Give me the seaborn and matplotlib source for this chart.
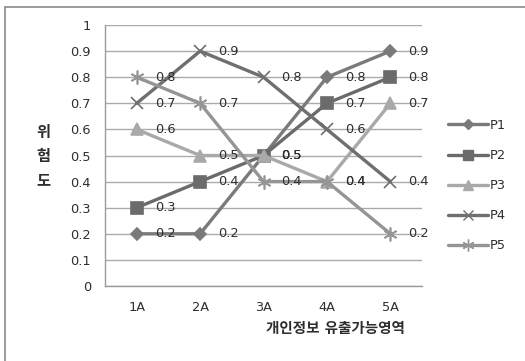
import matplotlib
matplotlib.use("Agg")
import matplotlib.pyplot as plt
from matplotlib.lines import Line2D
import seaborn as sns
import pandas as pd

categories = ["1A", "2A", "3A", "4A", "5A"]
p1 = [0.2, 0.2, 0.5, 0.8, 0.9]
p2 = [0.3, 0.4, 0.5, 0.7, 0.8]
p3 = [0.6, 0.5, 0.5, 0.4, 0.7]
p4 = [0.7, 0.9, 0.8, 0.6, 0.4]
p5 = [0.8, 0.7, 0.4, 0.4, 0.2]
series_names = ["P1", "P2", "P3", "P4", "P5"]
y_ticks = [0, 0.1, 0.2, 0.3, 0.4, 0.5, 0.6, 0.7, 0.8, 0.9, 1]
y_tick_labels = ["0", "0.1", "0.2", "0.3", "0.4", "0.5", "0.6", "0.7", "0.8", "0.9", "1"]

sns.set_style("white")
plt.rcParams["font.family"] = ["DejaVu Sans", "Noto Sans CJK KR"]
FS = 9.3
TXT = "#2e2e2e"

styles = {
    "P1": dict(color="#7a7a7a", marker="D", ms=6),
    "P2": dict(color="#6b6b6b", marker="s", ms=8.5),
    "P3": dict(color="#a9a9a9", marker="^", ms=9),
    "P4": dict(color="#6f6f6f", marker="x", ms=8),
    "P5": dict(color="#959595", marker=(6, 2, 0), ms=10),
}

rows = []
for name, vals in zip(series_names, [p1, p2, p3, p4, p5]):
    for c, v in zip(categories, vals):
        rows.append({"cat": c, "value": v, "series": name})
df = pd.DataFrame(rows)
df["pos"] = df["cat"].map({c: i for i, c in enumerate(categories)})

fig = plt.figure(figsize=(5.25, 3.61), dpi=100)
ax = fig.add_axes([0.2, 0.2078, 0.604, 0.7229])

for name in series_names:
    st = styles[name]
    sub = df[df["series"] == name]
    sns.lineplot(data=sub, x="pos", y="value", ax=ax, color=st["color"],
                 linewidth=2.4, marker=st["marker"], markersize=st["ms"],
                 markeredgecolor=st["color"], markerfacecolor=st["color"],
                 markeredgewidth=1.2, legend=False, zorder=3)
    for x, v in zip(sub["pos"], sub["value"]):
        ax.annotate(f"{v:g}", (x, v), xytext=(13, 0), textcoords="offset points",
                    ha="left", va="center", fontsize=FS, color=TXT, zorder=4)

ax.set_xlim(-0.5, 4.5)
ax.set_ylim(0, 1)
ax.set_yticks(y_ticks)
ax.set_yticklabels(y_tick_labels)
ax.set_xticks(range(len(categories)))
ax.set_xticklabels(categories)
ax.set_xticks([0.5, 1.5, 2.5, 3.5, 4.5], minor=True)
ax.tick_params(axis="x", which="major", length=0, pad=11, labelsize=FS, colors=TXT)
ax.tick_params(axis="x", which="minor", length=4, width=1, color="#9a9a9a", direction="out")
ax.tick_params(axis="y", length=4, width=1, color="#9a9a9a", direction="out",
               labelsize=FS, colors=TXT, pad=6)
ax.yaxis.grid(True, color="#ababab", linewidth=1)
ax.set_axisbelow(True)
for side in ["top", "right"]:
    ax.spines[side].set_visible(False)
for side in ["left", "bottom"]:
    ax.spines[side].set_color("#9a9a9a")
    ax.spines[side].set_linewidth(1)
ax.set_xlabel("")
ax.set_ylabel("")

fig.text(335 / 525, 1 - 329 / 361, "개인정보 유출가능영역", ha="center", va="center",
         fontsize=10.5, fontweight="bold", color=TXT)
for ch, yy in zip("위험도", [132, 156, 181]):
    fig.text(43 / 525, 1 - yy / 361, ch, ha="center", va="center",
             fontsize=11, fontweight="bold", color=TXT)

handles = [Line2D([0], [0], color=styles[n]["color"], linewidth=2.4,
                  marker=styles[n]["marker"], markersize=styles[n]["ms"] * 0.85,
                  markerfacecolor=styles[n]["color"], markeredgecolor=styles[n]["color"])
           for n in series_names]
leg = fig.legend(handles, series_names, loc="upper left",
                 bbox_to_anchor=(448 / 525, 1 - 119 / 361), frameon=False,
                 fontsize=FS, labelspacing=1.32, handlelength=3.1, handletextpad=0.15,
                 borderaxespad=0, borderpad=0)
for t in leg.get_texts():
    t.set_color(TXT)

# outer chart frame
fig.add_artist(Line2D([5 / 525, 1], [1 - 7 / 361, 1 - 7 / 361], transform=fig.transFigure,
                      color="#8a8a8a", linewidth=1.2))
fig.add_artist(Line2D([5 / 525, 5 / 525], [0, 1 - 7 / 361], transform=fig.transFigure,
                      color="#8a8a8a", linewidth=1.2))

fig.savefig("out.png", dpi=100)
